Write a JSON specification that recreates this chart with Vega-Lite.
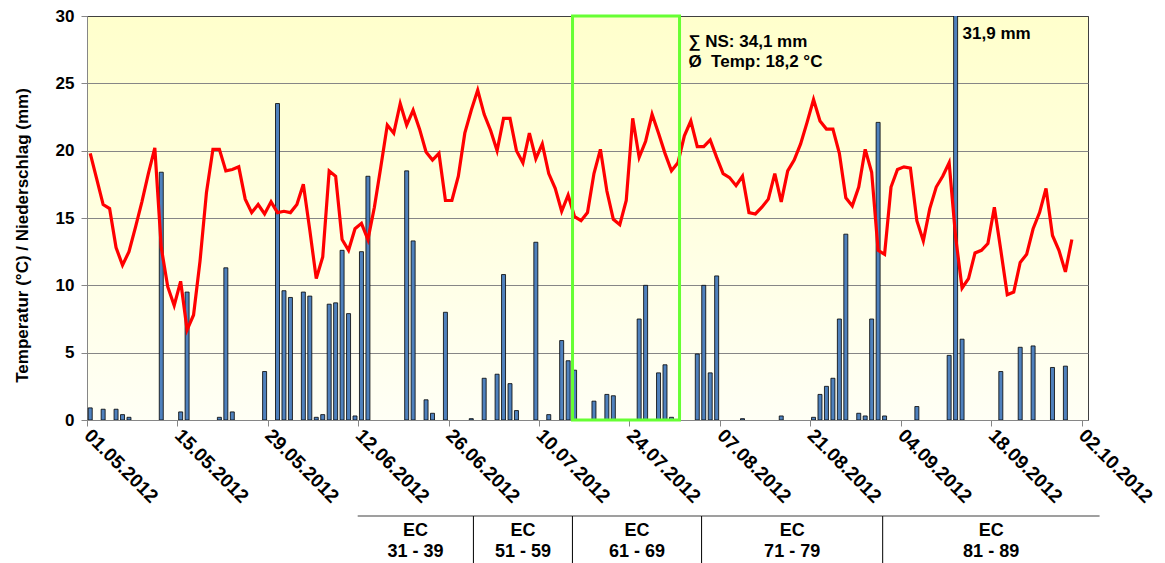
{
  "$schema": "https://vega.github.io/schema/vega-lite/v6.json",
  "width": 1001,
  "height": 404,
  "autosize": {"type": "none"},
  "padding": {"left": 87, "top": 16, "right": 77, "bottom": 143},
  "background": "#FFFFFF",
  "config": {
    "font": "Liberation Sans",
    "view": {
      "stroke": "#404040",
      "strokeWidth": 1,
      "fill": {"gradient": "linear", "x1": 0, "y1": 0, "x2": 0, "y2": 1,
        "stops": [{"offset": 0, "color": "#FFFFCC"}, {"offset": 1, "color": "#FFFFF5"}]}
    },
    "axis": {
      "labelFont": "Liberation Sans", "labelFontWeight": "bold", "labelColor": "#000000",
      "titleFont": "Liberation Sans", "titleFontWeight": "bold", "titleColor": "#000000",
      "domainColor": "#868686", "tickColor": "#868686", "gridColor": "#868686"
    }
  },
  "datasets": {
    "weather": [
      {"date":"2012-05-01","temp":19.8,"ns":0.9},
      {"date":"2012-05-02","temp":17.9,"ns":0},
      {"date":"2012-05-03","temp":16.0,"ns":0.8},
      {"date":"2012-05-04","temp":15.7,"ns":0},
      {"date":"2012-05-05","temp":12.8,"ns":0.8},
      {"date":"2012-05-06","temp":11.5,"ns":0.4},
      {"date":"2012-05-07","temp":12.5,"ns":0.2},
      {"date":"2012-05-08","temp":14.3,"ns":0},
      {"date":"2012-05-09","temp":16.2,"ns":0},
      {"date":"2012-05-10","temp":18.3,"ns":0},
      {"date":"2012-05-11","temp":20.2,"ns":0},
      {"date":"2012-05-12","temp":12.8,"ns":18.4},
      {"date":"2012-05-13","temp":9.9,"ns":0},
      {"date":"2012-05-14","temp":8.5,"ns":0},
      {"date":"2012-05-15","temp":10.3,"ns":0.6},
      {"date":"2012-05-16","temp":6.7,"ns":9.5},
      {"date":"2012-05-17","temp":7.8,"ns":0},
      {"date":"2012-05-18","temp":11.8,"ns":0},
      {"date":"2012-05-19","temp":16.9,"ns":0},
      {"date":"2012-05-20","temp":20.1,"ns":0},
      {"date":"2012-05-21","temp":20.1,"ns":0.2},
      {"date":"2012-05-22","temp":18.5,"ns":11.3},
      {"date":"2012-05-23","temp":18.6,"ns":0.6},
      {"date":"2012-05-24","temp":18.8,"ns":0},
      {"date":"2012-05-25","temp":16.4,"ns":0},
      {"date":"2012-05-26","temp":15.4,"ns":0},
      {"date":"2012-05-27","temp":16.0,"ns":0},
      {"date":"2012-05-28","temp":15.3,"ns":3.6},
      {"date":"2012-05-29","temp":16.2,"ns":0},
      {"date":"2012-05-30","temp":15.4,"ns":23.5},
      {"date":"2012-05-31","temp":15.5,"ns":9.6},
      {"date":"2012-06-01","temp":15.4,"ns":9.1},
      {"date":"2012-06-02","temp":16.0,"ns":0},
      {"date":"2012-06-03","temp":17.5,"ns":9.5},
      {"date":"2012-06-04","temp":14.1,"ns":9.2},
      {"date":"2012-06-05","temp":10.5,"ns":0.2},
      {"date":"2012-06-06","temp":12.1,"ns":0.4},
      {"date":"2012-06-07","temp":18.5,"ns":8.6},
      {"date":"2012-06-08","temp":18.1,"ns":8.7},
      {"date":"2012-06-09","temp":13.4,"ns":12.6},
      {"date":"2012-06-10","temp":12.6,"ns":7.9},
      {"date":"2012-06-11","temp":14.2,"ns":0.3},
      {"date":"2012-06-12","temp":14.6,"ns":12.5},
      {"date":"2012-06-13","temp":13.4,"ns":18.1},
      {"date":"2012-06-14","temp":15.8,"ns":0},
      {"date":"2012-06-15","temp":18.8,"ns":0},
      {"date":"2012-06-16","temp":21.9,"ns":0},
      {"date":"2012-06-17","temp":21.3,"ns":0},
      {"date":"2012-06-18","temp":23.5,"ns":0},
      {"date":"2012-06-19","temp":21.9,"ns":18.5},
      {"date":"2012-06-20","temp":23.0,"ns":13.3},
      {"date":"2012-06-21","temp":21.6,"ns":0},
      {"date":"2012-06-22","temp":19.9,"ns":1.5},
      {"date":"2012-06-23","temp":19.3,"ns":0.5},
      {"date":"2012-06-24","temp":19.8,"ns":0},
      {"date":"2012-06-25","temp":16.3,"ns":8.0},
      {"date":"2012-06-26","temp":16.3,"ns":0},
      {"date":"2012-06-27","temp":18.1,"ns":0},
      {"date":"2012-06-28","temp":21.3,"ns":0},
      {"date":"2012-06-29","temp":23.0,"ns":0.1},
      {"date":"2012-06-30","temp":24.5,"ns":0},
      {"date":"2012-07-01","temp":22.7,"ns":3.1},
      {"date":"2012-07-02","temp":21.5,"ns":0},
      {"date":"2012-07-03","temp":20.0,"ns":3.4},
      {"date":"2012-07-04","temp":22.4,"ns":10.8},
      {"date":"2012-07-05","temp":22.4,"ns":2.7},
      {"date":"2012-07-06","temp":20.0,"ns":0.7},
      {"date":"2012-07-07","temp":19.1,"ns":0},
      {"date":"2012-07-08","temp":21.3,"ns":0},
      {"date":"2012-07-09","temp":19.4,"ns":13.2},
      {"date":"2012-07-10","temp":20.5,"ns":0},
      {"date":"2012-07-11","temp":18.3,"ns":0.4},
      {"date":"2012-07-12","temp":17.2,"ns":0},
      {"date":"2012-07-13","temp":15.5,"ns":5.9},
      {"date":"2012-07-14","temp":16.7,"ns":4.4},
      {"date":"2012-07-15","temp":15.1,"ns":3.7},
      {"date":"2012-07-16","temp":14.8,"ns":0},
      {"date":"2012-07-17","temp":15.4,"ns":0},
      {"date":"2012-07-18","temp":18.3,"ns":1.4},
      {"date":"2012-07-19","temp":20.1,"ns":0},
      {"date":"2012-07-20","temp":17.0,"ns":1.9},
      {"date":"2012-07-21","temp":14.9,"ns":1.8},
      {"date":"2012-07-22","temp":14.5,"ns":0},
      {"date":"2012-07-23","temp":16.3,"ns":0},
      {"date":"2012-07-24","temp":22.4,"ns":0},
      {"date":"2012-07-25","temp":19.5,"ns":7.5},
      {"date":"2012-07-26","temp":20.7,"ns":10.0},
      {"date":"2012-07-27","temp":22.7,"ns":0},
      {"date":"2012-07-28","temp":21.3,"ns":3.5},
      {"date":"2012-07-29","temp":19.8,"ns":4.1},
      {"date":"2012-07-30","temp":18.5,"ns":0.2},
      {"date":"2012-07-31","temp":19.1,"ns":0},
      {"date":"2012-08-01","temp":21.1,"ns":0},
      {"date":"2012-08-02","temp":22.2,"ns":0},
      {"date":"2012-08-03","temp":20.3,"ns":4.9},
      {"date":"2012-08-04","temp":20.3,"ns":10.0},
      {"date":"2012-08-05","temp":20.8,"ns":3.5},
      {"date":"2012-08-06","temp":19.5,"ns":10.7},
      {"date":"2012-08-07","temp":18.3,"ns":0},
      {"date":"2012-08-08","temp":18.0,"ns":0},
      {"date":"2012-08-09","temp":17.4,"ns":0},
      {"date":"2012-08-10","temp":18.1,"ns":0.1},
      {"date":"2012-08-11","temp":15.4,"ns":0},
      {"date":"2012-08-12","temp":15.3,"ns":0},
      {"date":"2012-08-13","temp":15.8,"ns":0},
      {"date":"2012-08-14","temp":16.4,"ns":0},
      {"date":"2012-08-15","temp":18.3,"ns":0},
      {"date":"2012-08-16","temp":16.2,"ns":0.3},
      {"date":"2012-08-17","temp":18.5,"ns":0},
      {"date":"2012-08-18","temp":19.3,"ns":0},
      {"date":"2012-08-19","temp":20.5,"ns":0},
      {"date":"2012-08-20","temp":22.1,"ns":0},
      {"date":"2012-08-21","temp":23.8,"ns":0.2},
      {"date":"2012-08-22","temp":22.2,"ns":1.9},
      {"date":"2012-08-23","temp":21.6,"ns":2.5},
      {"date":"2012-08-24","temp":21.6,"ns":3.1},
      {"date":"2012-08-25","temp":19.8,"ns":7.5},
      {"date":"2012-08-26","temp":16.5,"ns":13.8},
      {"date":"2012-08-27","temp":15.9,"ns":0},
      {"date":"2012-08-28","temp":17.3,"ns":0.5},
      {"date":"2012-08-29","temp":20.1,"ns":0.3},
      {"date":"2012-08-30","temp":18.4,"ns":7.5},
      {"date":"2012-08-31","temp":12.6,"ns":22.1},
      {"date":"2012-09-01","temp":12.3,"ns":0.3},
      {"date":"2012-09-02","temp":17.3,"ns":0},
      {"date":"2012-09-03","temp":18.6,"ns":0},
      {"date":"2012-09-04","temp":18.8,"ns":0},
      {"date":"2012-09-05","temp":18.7,"ns":0},
      {"date":"2012-09-06","temp":14.8,"ns":1.0},
      {"date":"2012-09-07","temp":13.3,"ns":0},
      {"date":"2012-09-08","temp":15.7,"ns":0},
      {"date":"2012-09-09","temp":17.3,"ns":0},
      {"date":"2012-09-10","temp":18.1,"ns":0},
      {"date":"2012-09-11","temp":19.1,"ns":4.8},
      {"date":"2012-09-12","temp":13.6,"ns":31.9},
      {"date":"2012-09-13","temp":9.8,"ns":6.0},
      {"date":"2012-09-14","temp":10.5,"ns":0},
      {"date":"2012-09-15","temp":12.4,"ns":0},
      {"date":"2012-09-16","temp":12.6,"ns":0},
      {"date":"2012-09-17","temp":13.1,"ns":0},
      {"date":"2012-09-18","temp":15.8,"ns":0},
      {"date":"2012-09-19","temp":12.6,"ns":3.6},
      {"date":"2012-09-20","temp":9.3,"ns":0},
      {"date":"2012-09-21","temp":9.5,"ns":0},
      {"date":"2012-09-22","temp":11.7,"ns":5.4},
      {"date":"2012-09-23","temp":12.3,"ns":0},
      {"date":"2012-09-24","temp":14.2,"ns":5.5},
      {"date":"2012-09-25","temp":15.4,"ns":0},
      {"date":"2012-09-26","temp":17.2,"ns":0},
      {"date":"2012-09-27","temp":13.7,"ns":3.9},
      {"date":"2012-09-28","temp":12.6,"ns":0},
      {"date":"2012-09-29","temp":11.0,"ns":4.0},
      {"date":"2012-09-30","temp":13.4,"ns":0}
    ],
    "ec": [
      {"stage":"31 - 39","start":"2012-06-11T22:00:00Z","end":"2012-06-29T20:00:00Z"},
      {"stage":"51 - 59","start":"2012-06-29T20:00:00Z","end":"2012-07-15T04:00:00Z"},
      {"stage":"61 - 69","start":"2012-07-15T04:00:00Z","end":"2012-08-04T04:00:00Z"},
      {"stage":"71 - 79","start":"2012-08-04T04:00:00Z","end":"2012-09-01T05:00:00Z"},
      {"stage":"81 - 89","start":"2012-09-01T05:00:00Z","end":"2012-10-04T19:00:00Z"}
    ]
  },
  "layer": [
    {
      "data": {"name": "weather"},
      "transform": [{"filter": "datum.ns > 0"}],
      "mark": {"type": "bar", "size": 4, "fill": "#4F81BD", "stroke": "#000000", "strokeWidth": 0.8, "clip": true},
      "encoding": {
        "x": {
          "field": "date", "type": "temporal", "timeUnit": "utcyearmonthdate", "bandPosition": 0.5,
          "scale": {"type": "utc", "domain": [{"year": 2012, "month": 5, "date": 1, "utc": true}, {"year": 2012, "month": 10, "date": 3, "utc": true}]},
          "axis": {
            "title": null,
            "values": [
              {"year": 2012, "month": 5, "date": 1, "utc": true},
              {"year": 2012, "month": 5, "date": 15, "utc": true},
              {"year": 2012, "month": 5, "date": 29, "utc": true},
              {"year": 2012, "month": 6, "date": 12, "utc": true},
              {"year": 2012, "month": 6, "date": 26, "utc": true},
              {"year": 2012, "month": 7, "date": 10, "utc": true},
              {"year": 2012, "month": 7, "date": 24, "utc": true},
              {"year": 2012, "month": 8, "date": 7, "utc": true},
              {"year": 2012, "month": 8, "date": 21, "utc": true},
              {"year": 2012, "month": 9, "date": 4, "utc": true},
              {"year": 2012, "month": 9, "date": 18, "utc": true},
              {"year": 2012, "month": 10, "date": 2, "utc": true}
            ],
            "labelExpr": "utcFormat(datum.value, '%d.%m.%Y')",
            "labelAngle": 45, "labelAlign": "left", "labelBaseline": "middle",
            "labelFontSize": 19, "labelPadding": 6, "tickSize": 6,
            "grid": false, "labelOverlap": false, "labelBound": false, "labelFlush": false
          }
        },
        "y": {
          "field": "ns", "type": "quantitative",
          "scale": {"domain": [0, 30], "nice": false, "zero": true},
          "axis": {
            "title": "Temperatur (°C) / Niederschlag (mm)",
            "values": [0, 5, 10, 15, 20, 25, 30],
            "grid": true,
            "gridColor": {"condition": {"test": "datum.value == 30", "value": "#404040"}, "value": "#868686"},
            "labelFontSize": 17, "titleFontSize": 17, "tickSize": 6, "labelPadding": 7, "titlePadding": 24, "titleY": 219
          }
        }
      }
    },
    {
      "data": {"name": "weather"},
      "mark": {"type": "line", "color": "#FF0000", "strokeWidth": 3.2},
      "encoding": {
        "x": {"field": "date", "type": "temporal", "timeUnit": "utcyearmonthdate", "bandPosition": 0.5, "title": null},
        "y": {
          "field": "temp", "type": "quantitative",
          "axis": {
            "title": "Temperatur (°C) / Niederschlag (mm)",
            "values": [0, 5, 10, 15, 20, 25, 30],
            "grid": true,
            "gridColor": {"condition": {"test": "datum.value == 30", "value": "#404040"}, "value": "#868686"},
            "labelFontSize": 17, "titleFontSize": 17, "tickSize": 6, "labelPadding": 7, "titlePadding": 24, "titleY": 219
          }
        }
      }
    },
    {
      "data": {"values": [{}]},
      "mark": {"type": "rect", "filled": false, "stroke": "#66FF33", "strokeWidth": 3},
      "encoding": {
        "x": {"datum": {"year": 2012, "month": 7, "date": 15, "hours": 4, "minutes": 20, "utc": true}, "type": "temporal"},
        "x2": {"datum": {"year": 2012, "month": 7, "date": 31, "hours": 18, "utc": true}},
        "y": {"datum": 0, "type": "quantitative"},
        "y2": {"datum": 30}
      }
    },
    {
      "data": {"values": [{}]},
      "mark": {"type": "text", "text": "∑ NS: 34,1 mm", "align": "left", "baseline": "middle", "fontSize": 17, "fontWeight": "bold", "color": "#000000"},
      "encoding": {
        "x": {"datum": {"year": 2012, "month": 8, "date": 2, "hours": 3, "utc": true}, "type": "temporal"},
        "y": {"datum": 28.1, "type": "quantitative"}
      }
    },
    {
      "data": {"values": [{}]},
      "mark": {"type": "text", "text": "Ø \u00a0Temp: 18,2 °C", "align": "left", "baseline": "middle", "fontSize": 17, "fontWeight": "bold", "color": "#000000"},
      "encoding": {
        "x": {"datum": {"year": 2012, "month": 8, "date": 2, "hours": 3, "utc": true}, "type": "temporal"},
        "y": {"datum": 26.6, "type": "quantitative"}
      }
    },
    {
      "data": {"values": [{}]},
      "mark": {"type": "text", "text": "31,9 mm", "align": "left", "baseline": "middle", "fontSize": 17, "fontWeight": "bold", "color": "#000000"},
      "encoding": {
        "x": {"datum": {"year": 2012, "month": 9, "date": 13, "hours": 14, "utc": true}, "type": "temporal"},
        "y": {"datum": 28.65, "type": "quantitative"}
      }
    },
    {
      "data": {"name": "ec"},
      "mark": {"type": "rule", "color": "#404040", "strokeWidth": 1.2},
      "encoding": {
        "x": {"field": "start", "type": "temporal", "title": null},
        "x2": {"field": "end"},
        "y": {"datum": -7.13, "type": "quantitative"}
      }
    },
    {
      "data": {"name": "ec"},
      "transform": [{"filter": "datum.stage != '31 - 39'"}],
      "mark": {"type": "rule", "color": "#000000", "strokeWidth": 1},
      "encoding": {
        "x": {"field": "start", "type": "temporal", "title": null},
        "y": {"datum": -7.13, "type": "quantitative"},
        "y2": {"datum": -10.7}
      }
    },
    {
      "data": {"name": "ec"},
      "transform": [{"calculate": "(time(datum.start) + time(datum.end)) / 2", "as": "mid"}],
      "mark": {"type": "text", "text": "EC", "align": "center", "baseline": "middle", "fontSize": 18, "fontWeight": "bold", "color": "#000000"},
      "encoding": {
        "x": {"field": "mid", "type": "temporal", "title": null},
        "y": {"datum": -8.25, "type": "quantitative"}
      }
    },
    {
      "data": {"name": "ec"},
      "transform": [{"calculate": "(time(datum.start) + time(datum.end)) / 2", "as": "mid"}],
      "mark": {"type": "text", "align": "center", "baseline": "middle", "fontSize": 18, "fontWeight": "bold", "color": "#000000"},
      "encoding": {
        "x": {"field": "mid", "type": "temporal", "title": null},
        "y": {"datum": -9.8, "type": "quantitative"},
        "text": {"field": "stage"}
      }
    }
  ]
}
